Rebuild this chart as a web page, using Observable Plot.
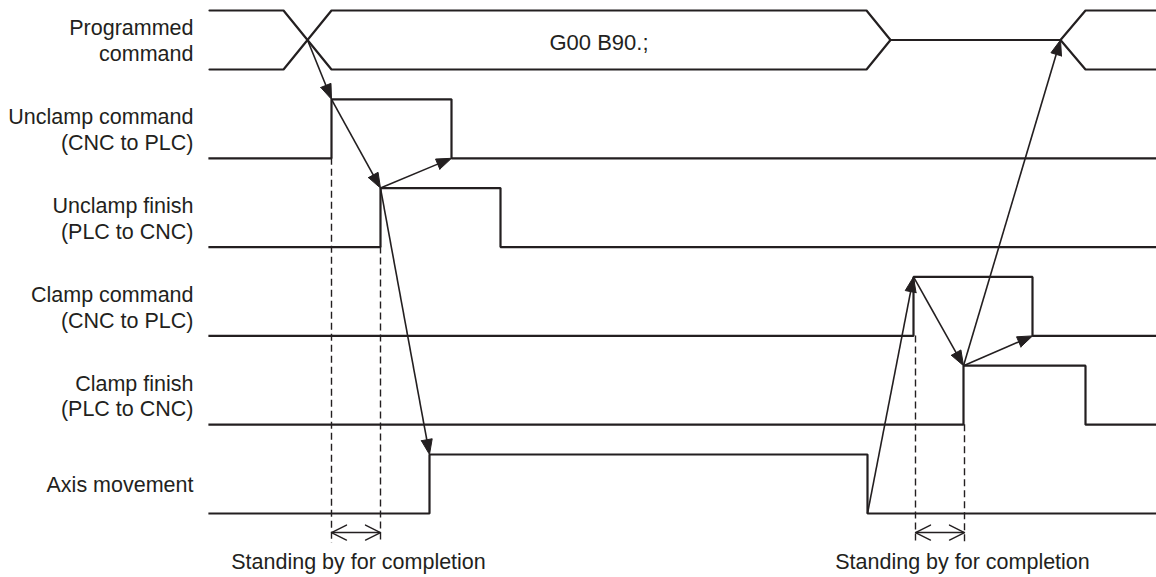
<!DOCTYPE html>
<html><head><meta charset="utf-8">
<script src="https://cdn.jsdelivr.net/npm/d3@7"></script>
<script src="https://cdn.jsdelivr.net/npm/@observablehq/plot@0.6"></script>
<style>html,body{margin:0;padding:0;background:#fff;}</style>
</head><body><div id="chart"></div>
<script>
// ---- data (time units, signal rows) ----
const rowNames = ["Programmed\ncommand", "Unclamp command\n(CNC to PLC)", "Unclamp finish\n(PLC to CNC)", "Clamp command\n(CNC to PLC)", "Clamp finish\n(PLC to CNC)", "Axis movement"];
const riseTimes = [122, 171, 704, 754, 220];   // rows 1..5
const fallTimes = [242, 291, 823, 876, 658];
const busTimes = [0, 74, 122, 657, 681, 851, 876, 947]; // start, change1 start/end, change2 start/end, change3 start/end, end
const busText = "G00 B90.;";
const busCross = 98;
// arrows: [time, row, level]  level 1 = high, 0 = low, 0.5 = bus middle
const arrowFrom = [[98,0,0.5],[122,1,1],[171,2,1],[171,2,1],[658,5,0],[704,3,1],[754,4,1],[754,4,1]];
const arrowTo   = [[122,1,1],[171,2,1],[242,1,0],[220,5,1],[704,3,1],[754,4,1],[823,3,0],[851,0,0.5]];
const standbyStart = [122, 706];
const standbyEnd = [171, 755];
const standbyStartRow = [1, 3];
const standbyEndRow = [2, 4];
const standbyLabelTime = [149, 753];
const standbyText = "Standing by for completion";

// ---- layout ----
const W = 1156, H = 577;
const xDomain = [0, 947], xRange = [209, 1156];
const yDomain = [0, 5], yRange = [69, 513];
const kx = (xRange[1]-xRange[0])/(xDomain[1]-xDomain[0]);
const ky = (yRange[1]-yRange[0])/(yDomain[1]-yDomain[0]);
const AMP = 59/ky;
const yOf = (row, level) => row - level*AMP;
const DASH_END = 5.338, DBL_Y = 5.214, LABEL_Y = 5.552;
const INK = "#231f20";
const FONT = "'Liberation Sans', Arial, sans-serif";

// bus lines
const [b0,b1,b2,b3,b4,b5,b6,b7] = busTimes;
const hi = yOf(0,1), lo = yOf(0,0), mid = yOf(0,0.5);
const busLines = [
  {id:"a", pts:[[b0,hi],[b1,hi],[b2,lo],[b3,lo],[b4,mid]]},
  {id:"b", pts:[[b0,lo],[b1,lo],[b2,hi],[b3,hi],[b4,mid]]},
  {id:"c", pts:[[b4,mid],[b5,mid]]},
  {id:"d", pts:[[b5,mid],[b6,hi],[b7,hi]]},
  {id:"e", pts:[[b5,mid],[b6,lo],[b7,lo]]}
].flatMap(l => l.pts.map(([x,y]) => ({id:l.id, x, y})));

// signal step lines
const sigLines = riseTimes.flatMap((r, i) => {
  const row = i+1, f = fallTimes[i];
  return [[0,0],[r,0],[r,1],[f,1],[f,0],[947,0]].map(([x,lv]) => ({id:row, x, y:yOf(row,lv)}));
});

// arrow geometry helper (works in pixel space, returns data coordinates)
function headPts(x1,y1,x2,y2,len,hw){
  const dx=(x2-x1)*kx, dy=(y2-y1)*ky, L=Math.hypot(dx,dy);
  const ux=dx/L, uy=dy/L, nx=-uy, ny=ux;
  const bx=-ux*len, by=-uy*len;
  const p = (ox,oy) => [x2+ox/kx, y2+oy/ky];
  return {left:p(bx+nx*hw, by+ny*hw), tip:[x2,y2], right:p(bx-nx*hw, by-ny*hw), base:p(bx*0.7,by*0.7)};
}
const arrows = arrowFrom.map((f,i) => {
  const t = arrowTo[i];
  return {x1:f[0], y1:yOf(f[1],f[2]), x2:t[0], y2:yOf(t[1],t[2])};
});
const heads = arrows.flatMap((a,i) => {
  const h = headPts(a.x1,a.y1,a.x2,a.y2,15,5.5);
  return [h.left,h.tip,h.right,h.left].map(([x,y]) => ({id:i, x, y}));
});
const shafts = arrows.map((a,i) => {
  const h = headPts(a.x1,a.y1,a.x2,a.y2,15,5.5);
  return {x1:a.x1, y1:a.y1, x2:h.base[0], y2:h.base[1]};
});

// dashed guides and double arrows
const dashes = standbyStart.flatMap((s,i) => [
  {x:s, y1:yOf(standbyStartRow[i],0), y2:DASH_END},
  {x:standbyEnd[i], y1:yOf(standbyEndRow[i],0), y2:DASH_END}
]);
const dbl = standbyStart.map((s,i) => ({x1:s, x2:standbyEnd[i], y:DBL_Y}));
const chevrons = dbl.flatMap((d,i) => {
  const a = headPts(d.x1,d.y,d.x2,d.y,15,7.5);
  const b = headPts(d.x2,d.y,d.x1,d.y,15,7.5);
  return [
    ...[a.left,a.tip,a.right].map(([x,y]) => ({id:"r"+i, x, y})),
    ...[b.left,b.tip,b.right].map(([x,y]) => ({id:"l"+i, x, y}))
  ];
});
const standbyLabels = standbyLabelTime.map(t => ({x:t, y:LABEL_Y, text:standbyText}));
const rowLabels = rowNames.map((n,i) => ({x:-16, y:yOf(i,0.5), text:n}));

const plot = Plot.plot({
  width: W, height: H,
  marginLeft: 0, marginRight: 0, marginTop: 0, marginBottom: 0,
  x: {domain: xDomain, range: xRange, axis: null},
  y: {domain: yDomain, range: yRange, axis: null},
  style: {background: "#fff", fontFamily: FONT, overflow: "visible"},
  marks: [
    Plot.ruleX(dashes, {x:"x", y1:"y1", y2:"y2", stroke: INK, strokeWidth: 1.4, strokeDasharray: "7,4"}),
    Plot.line(busLines, {x:"x", y:"y", z:"id", stroke: INK, strokeWidth: 2.2, strokeLinejoin: "miter"}),
    Plot.line(sigLines, {x:"x", y:"y", z:"id", stroke: INK, strokeWidth: 2.2, strokeLinejoin: "miter", strokeLinecap: "square"}),
    Plot.link(shafts, {x1:"x1", y1:"y1", x2:"x2", y2:"y2", stroke: INK, strokeWidth: 1.6}),
    Plot.line(heads, {x:"x", y:"y", z:"id", fill: INK, stroke: INK, strokeWidth: 1, strokeLinejoin: "miter"}),
    Plot.link(dbl, {x1:"x1", x2:"x2", y1:"y", y2:"y", stroke: INK, strokeWidth: 1.4}),
    Plot.line(chevrons, {x:"x", y:"y", z:"id", stroke: INK, strokeWidth: 1.4}),
    Plot.text([{x:(busTimes[2]+busTimes[3])/2, y:yOf(0,0.45), text:busText}], {x:"x", y:"y", text:"text", fontSize: 22, fill: INK, fontFamily: FONT}),
    Plot.text(rowLabels, {x:"x", y:"y", text:"text", textAnchor:"end", lineAnchor:"middle", lineHeight: 1.2, fontSize: 21.5, fill: INK, fontFamily: FONT}),
    Plot.text(standbyLabels, {x:"x", y:"y", text:"text", fontSize: 21.5, fill: INK, fontFamily: FONT})
  ]
});
document.getElementById("chart").appendChild(plot);
</script>
</body></html>
